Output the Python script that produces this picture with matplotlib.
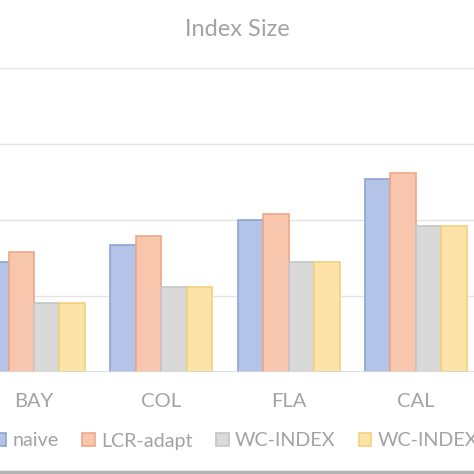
import matplotlib
matplotlib.use("Agg")
import matplotlib.pyplot as plt
import numpy as np
from matplotlib.lines import Line2D

plt.rcParams['font.family'] = ['Lato', 'DejaVu Sans']

datasets = ["BAY", "COL", "FLA", "CAL"]
series = ["naive", "LCR-adapt", "WC-INDEX", "WC-INDEX"]
naive = [1.45, 1.67, 2.00, 2.54]
lcr_adapt = [1.58, 1.79, 2.08, 2.62]
wc_index = [0.91, 1.12, 1.45, 1.92]
wc_index2 = [0.91, 1.12, 1.45, 1.92]

fills = ['#b4c4e8', '#f8c5ad', '#d9d9d9', '#fde3a7']
edges = ['#8ea3d6', '#eda789', '#c6c6c6', '#f3d27a']
txt = '#a3a3a3'

fig = plt.figure(figsize=(4.74, 4.74), dpi=100)
ax = fig.add_axes([0, 1 - 372 / 474, 1, (372 - 68) / 474])

x = np.arange(len(datasets))
w = 0.2
vals = [naive, lcr_adapt, wc_index, wc_index2]
for i, v in enumerate(vals):
    ax.bar(x + (i - 1.5) * w, v, w, color=fills[i], edgecolor=edges[i],
           linewidth=1.2, label=series[i], zorder=3)

ax.set_ylim(0, 4)
ax.set_xlim(-0.267, 3.456)
ax.set_yticks([1, 2, 3, 4])
ax.grid(axis='y', color='#e4e4e4', linewidth=1, zorder=0)
ax.axhline(0, color='#d9d9d9', linewidth=1.2, zorder=4)
for s in ax.spines.values():
    s.set_visible(False)
ax.tick_params(axis='y', left=False, labelleft=False)
ax.set_xticks(x)
ax.set_xticklabels(datasets, color=txt, fontsize=14.5)
ax.tick_params(axis='x', length=0, pad=15)

fig.text(0.5, 1 - 30 / 474, "Index Size", ha='center', va='center',
         color=txt, fontsize=17)

fig.legend(loc='center left', bbox_to_anchor=(-0.013, 1 - 441 / 474), ncol=4,
           frameon=False, fontsize=14.2, labelcolor=txt, handlelength=0.64,
           handleheight=0.64, handletextpad=0.3, columnspacing=1.2,
           borderpad=0, borderaxespad=0)

fig.add_artist(Line2D([0, 1], [1 - 472 / 474] * 2, color='#b3b3b3', linewidth=2.5))

fig.savefig("out.png", dpi=100)
